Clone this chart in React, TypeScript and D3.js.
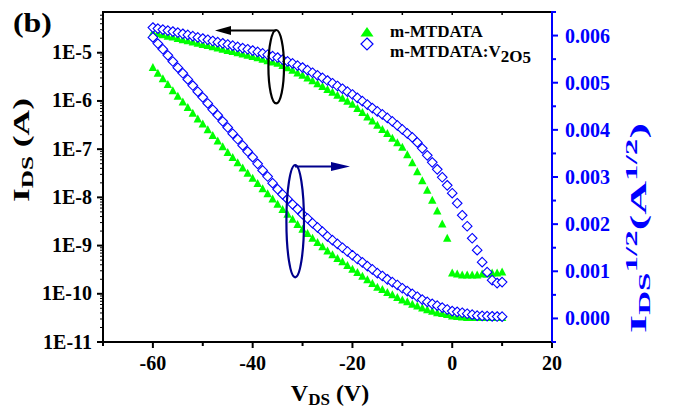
import React from 'react';
import * as d3 from 'd3';

const voltage = [-60,-59,-58,-57,-56,-55,-54,-53,-52,-51,-50,-49,-48,-47,-46,-45,-44,-43,-42,-41,-40,-39,-38,-37,-36,-35,-34,-33,-32,-31,-30,-29,-28,-27,-26,-25,-24,-23,-22,-21,-20,-19,-18,-17,-16,-15,-14,-13,-12,-11,-10,-9,-8,-7,-6,-5,-4,-3,-2,-1,0,1,2,3,4,5,6,7,8,9,10];

// m-MTDATA, I_DS (A), left log axis
const greenLog = [2.6e-5,2.5e-5,2.35e-5,2.2e-5,2.1e-5,1.97e-5,1.86e-5,1.76e-5,1.66e-5,1.57e-5,1.48e-5,1.4e-5,1.32e-5,1.25e-5,1.18e-5,1.11e-5,1.05e-5,9.9e-6,9.4e-6,8.8e-6,8.3e-6,7.8e-6,7.3e-6,6.8e-6,6.4e-6,6.0e-6,5.4e-6,4.85e-6,4.3e-6,3.8e-6,3.4e-6,2.97e-6,2.6e-6,2.27e-6,1.99e-6,1.73e-6,1.5e-6,1.3e-6,1.13e-6,9.8e-7,8.5e-7,6.95e-7,5.7e-7,4.65e-7,3.8e-7,3.1e-7,2.55e-7,2.1e-7,1.68e-7,1.35e-7,1.09e-7,7.6e-8,5.2e-8,3.4e-8,2.2e-8,1.4e-8,8.7e-9,5.2e-9,2.8e-9,1.42e-9,2.7e-10,2.56e-10,2.44e-10,2.44e-10,2.44e-10,2.44e-10,2.56e-10,2.56e-10,2.7e-10,2.7e-10,2.83e-10];

// m-MTDATA:V2O5, I_DS (A), left log axis
const blueLog = [3.33e-5,3.17e-5,3.02e-5,2.88e-5,2.75e-5,2.62e-5,2.47e-5,2.34e-5,2.21e-5,2.08e-5,1.97e-5,1.86e-5,1.75e-5,1.66e-5,1.57e-5,1.48e-5,1.4e-5,1.32e-5,1.25e-5,1.18e-5,1.11e-5,1.04e-5,9.7e-6,9.1e-6,8.5e-6,7.95e-6,7.2e-6,6.6e-6,6.0e-6,5.4e-6,4.93e-6,4.35e-6,3.85e-6,3.4e-6,3.0e-6,2.65e-6,2.33e-6,2.04e-6,1.79e-6,1.56e-6,1.36e-6,1.16e-6,9.9e-7,8.4e-7,7.1e-7,6.07e-7,5.25e-7,4.45e-7,3.77e-7,3.11e-7,2.57e-7,2.12e-7,1.75e-7,1.38e-7,1.04e-7,7.45e-8,5.33e-8,3.82e-8,2.61e-8,1.78e-8,1.22e-8,7.55e-9,4.26e-9,2.52e-9,1.42e-9,8.04e-10,4.53e-10,2.81e-10,1.92e-10,1.67e-10,1.75e-10];

// m-MTDATA, I_DS^1/2, right axis
const greenSqrt = [0.00532,0.0052,0.00508,0.00496,0.00483,0.00471,0.00459,0.00447,0.00435,0.00423,0.00412,0.004,0.00388,0.00376,0.00364,0.00352,0.00341,0.0033,0.00319,0.00308,0.00297,0.00286,0.00275,0.00264,0.00253,0.00242,0.00231,0.00221,0.0021,0.00199,0.00189,0.0018,0.0017,0.00161,0.00152,0.00143,0.00135,0.00127,0.0012,0.00112,0.00104,0.00097,0.00089,0.00082,0.00074,0.00066,0.00061,0.00055,0.0005,0.00044,0.00039,0.00035,0.0003,0.00026,0.00022,0.00018,0.00015,0.00012,0.0001,0.00008,0.00005,0.00004,0.00003,0.00002,0.00002,0.00002,0.00002,0.00002,0.00002,0.00002,0.00002];

// m-MTDATA:V2O5, I_DS^1/2, right axis
const blueSqrt = [0.00596,0.00583,0.00571,0.00558,0.00545,0.00532,0.0052,0.00507,0.00494,0.00481,0.00469,0.00456,0.00443,0.00431,0.00418,0.00405,0.00392,0.0038,0.00367,0.00354,0.00342,0.00328,0.00314,0.00301,0.00287,0.00274,0.00263,0.00253,0.00242,0.00232,0.00221,0.00212,0.00202,0.00193,0.00184,0.00174,0.00166,0.00158,0.0015,0.00142,0.00134,0.00126,0.00119,0.00111,0.00104,0.00096,0.0009,0.00083,0.00077,0.00071,0.00064,0.00058,0.00052,0.00046,0.0004,0.00035,0.00031,0.00027,0.00023,0.00019,0.000155,0.00014,0.00012,0.0001,0.00008,0.000059,0.000055,0.00005,0.000045,0.00004,0.000038];

const xTicks = [-60, -40, -20, 0, 20];
const xMinorTicks = [-70, -50, -30, -10, 10];
const leftTicks = [1e-11, 1e-10, 1e-9, 1e-8, 1e-7, 1e-6, 1e-5];
const leftTickLabels = ['1E-11', '1E-10', '1E-9', '1E-8', '1E-7', '1E-6', '1E-5'];
const rightTicks = [0, 0.001, 0.002, 0.003, 0.004, 0.005, 0.006];
const rightTickLabels = ['0.000', '0.001', '0.002', '0.003', '0.004', '0.005', '0.006'];
const rightMinorTicks = [-0.0005, 0.0005, 0.0015, 0.0025, 0.0035, 0.0045, 0.0055, 0.0065];
const legendLabels = ['m-MTDATA', 'm-MTDATA:V'];

const W = 673, H = 410;
const PL = 103, PR = 552, PT = 12, PB = 342;
const GREEN = '#00ff00';
const BLUE = '#0000ff';
const NAVY = '#00008c';
const FONT = "'Liberation Serif', 'Times New Roman', serif";

export default function App() {
  const x = d3.scaleLinear().domain([-70, 20]).range([PL, PR]);
  const yLog = d3.scaleLog().domain([1e-11, 7e-5]).range([PB, PT]);
  const ySq = d3.scaleLinear().domain([-0.0005, 0.0065]).range([PB, PT]);

  const logMinor: number[] = [];
  for (let e = -11; e <= -5; e++) {
    for (let m = 2; m <= 9; m++) {
      const v = m * Math.pow(10, e);
      if (v < 7e-5) logMinor.push(v);
    }
  }
  const topTicks = [-60, -50, -40, -30, -20, -10, 0, 10];

  const tri = 'M0,-4.6L4.2,3.4L-4.2,3.4Z';
  const dia = 'M0,-4.8L4.8,0L0,4.8L-4.8,0Z';

  return (
    <svg width={W} height={H} style={{ position: 'absolute', left: 0, top: 0, background: '#fff' }}
      fontFamily={FONT} fontWeight="bold">
      <rect x={0} y={0} width={W} height={H} fill="#fff" />
      {/* data: green */}
      <g>
        {voltage.map((v, i) => (
          <path key={'gl' + i} d={tri} transform={`translate(${x(v)},${yLog(greenLog[i])})`} fill={GREEN} />
        ))}
        {voltage.map((v, i) => (
          <path key={'gs' + i} d={tri} transform={`translate(${x(v)},${ySq(greenSqrt[i])})`} fill={GREEN} />
        ))}
      </g>
      <g>
        {voltage.map((v, i) => (
          <path key={'bl' + i} d={dia} transform={`translate(${x(v)},${yLog(blueLog[i])})`} fill="#fff" stroke={BLUE} strokeWidth={1.1} />
        ))}
        {voltage.map((v, i) => (
          <path key={'bs' + i} d={dia} transform={`translate(${x(v)},${ySq(blueSqrt[i])})`} fill="#fff" stroke={BLUE} strokeWidth={1.1} />
        ))}
      </g>

      {/* annotations */}
      <ellipse cx={276.2} cy={66.7} rx={7.8} ry={36.7} fill="none" stroke="#000" strokeWidth={2.2} />
      <line x1={276} y1={30.5} x2={229} y2={30.5} stroke="#000" strokeWidth={2} />
      <path d="M215,30.5L231,26L231,35Z" fill="#000" />
      <ellipse cx={295.2} cy={221.2} rx={8.8} ry={56.2} fill="none" stroke={NAVY} strokeWidth={2.2} />
      <line x1={295} y1={166.5} x2={332} y2={166.5} stroke={NAVY} strokeWidth={2} />
      <path d="M350,166.5L331,162L331,171Z" fill={NAVY} />

      {/* frame */}
      <line x1={PL} y1={PT} x2={PR} y2={PT} stroke="#000" strokeWidth={2} />
      {topTicks.map(t => (
        <line key={'tt' + t} x1={x(t)} x2={x(t)} y1={PT} y2={PT + 3} stroke="#000" strokeWidth={1.5} />
      ))}
      <line x1={PL} y1={PB} x2={PR} y2={PB} stroke="#000" strokeWidth={2} />
      <line x1={PL} y1={PT - 1} x2={PL} y2={PB + 1} stroke="#000" strokeWidth={2} />
      <line x1={PR} y1={PT - 1} x2={PR} y2={PB + 1} stroke={BLUE} strokeWidth={2} />

      {/* bottom axis */}
      {xTicks.map(t => (
        <g key={'xt' + t}>
          <line x1={x(t)} x2={x(t)} y1={PB} y2={PB + 6} stroke="#000" strokeWidth={2} />
          <text x={x(t)} y={370} textAnchor="middle" fontSize={20} fill="#000">{t}</text>
        </g>
      ))}
      {xMinorTicks.map(t => (
        <line key={'xm' + t} x1={x(t)} x2={x(t)} y1={PB} y2={PB + 4} stroke="#000" strokeWidth={2} />
      ))}

      {/* left axis */}
      {leftTicks.map((t, i) => (
        <g key={'lt' + i}>
          <line x1={PL - 6} x2={PL} y1={yLog(t)} y2={yLog(t)} stroke="#000" strokeWidth={2} />
          <text x={92} y={yLog(t) + 6.5} textAnchor="end" fontSize={20} fill="#000">{leftTickLabels[i]}</text>
        </g>
      ))}
      {logMinor.map((t, i) => (
        <line key={'lm' + i} x1={PL - 3} x2={PL} y1={yLog(t)} y2={yLog(t)} stroke="#000" strokeWidth={1} />
      ))}

      {/* right axis */}
      {rightTicks.map((t, i) => (
        <g key={'rt' + i}>
          <line x1={PR} x2={PR + 6} y1={ySq(t)} y2={ySq(t)} stroke={BLUE} strokeWidth={2} />
          <text x={565} y={ySq(t) + 7} textAnchor="start" fontSize={20} fill={BLUE}>{rightTickLabels[i]}</text>
        </g>
      ))}
      {rightMinorTicks.map((t, i) => (
        <line key={'rm' + i} x1={PR} x2={PR + 4} y1={ySq(t)} y2={ySq(t)} stroke={BLUE} strokeWidth={2} />
      ))}

      {/* titles */}
      <text x={13} y={32} fontSize={28} fill="#000" textLength={39} lengthAdjust="spacingAndGlyphs">(b)</text>
      <text x={330} y={401} textAnchor="middle" fontSize={24} fill="#000">
        V<tspan fontSize={17} dy={4}>DS</tspan><tspan dy={-4}> (V)</tspan>
      </text>
      <text transform="translate(29,150) rotate(-90)" textAnchor="middle" fontSize={24} fill="#000"
        textLength={104} lengthAdjust="spacingAndGlyphs">
        I<tspan fontSize={17} dy={4}>DS</tspan><tspan dy={-4}> (A)</tspan>
      </text>
      <text transform="translate(646,228) rotate(-90)" textAnchor="middle" fontSize={24} fill={BLUE}
        textLength={210} lengthAdjust="spacingAndGlyphs">
        I<tspan fontSize={17} dy={4}>DS</tspan><tspan fontSize={17} dy={-13}>1/2</tspan><tspan dy={9}>(A</tspan><tspan fontSize={17} dy={-9}>1/2</tspan><tspan dy={9}>)</tspan>
      </text>

      {/* legend */}
      <path d="M367,27L373.5,36.5L360.5,36.5Z" fill={GREEN} />
      <text x={390} y={36.5} fontSize={17} fill="#000">{legendLabels[0]}</text>
      <path d="M367,38L373,44L367,50L361,44Z" fill="#fff" stroke={BLUE} strokeWidth={1.2} />
      <text x={390} y={57} fontSize={17} fill="#000">
        {legendLabels[1]}<tspan dy={5}>2</tspan><tspan>O</tspan><tspan dy={1}>5</tspan>
      </text>
    </svg>
  );
}
